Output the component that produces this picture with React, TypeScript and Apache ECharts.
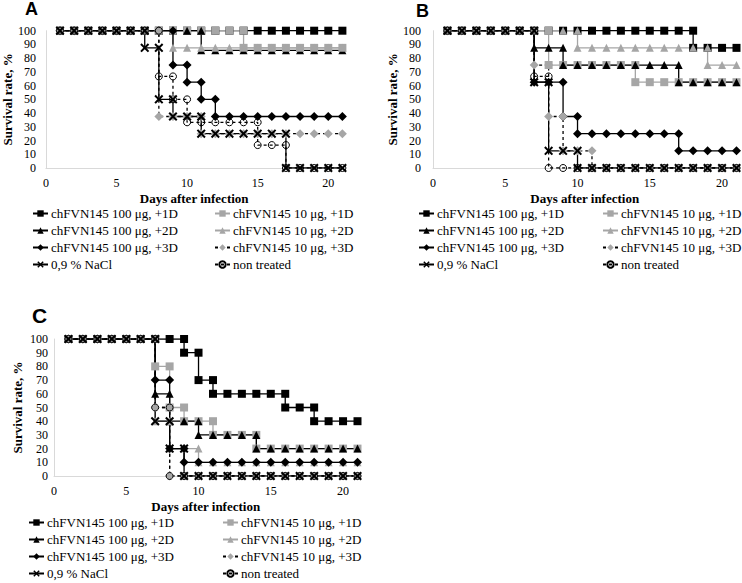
import React, { useEffect, useRef } from 'react';
import * as echarts from 'echarts';

// Series names (legend order)
const NAMES = [
  'chFVN145 100 μg, +1D',
  'chFVN145 10 μg, +1D',
  'chFVN145 100 μg, +2D',
  'chFVN145 10 μg, +2D',
  'chFVN145 100 μg, +3D',
  'chFVN145 10 μg, +3D',
  '0,9 % NaCl',
  'non treated',
];

// Survival (%) on days 1..21, panel A
const A_100_1D = [100,100,100,100,100,100,100,100,100,100,100,100,100,100,100,100,100,100,100,100,100];
const A_10_1D = [100,100,100,100,100,100,100,100,100,100,100,100,100,87.5,87.5,87.5,87.5,87.5,87.5,87.5,87.5];
const A_100_2D = [100,100,100,100,100,100,100,100,100,100,85.7,85.7,85.7,85.7,85.7,85.7,85.7,85.7,85.7,85.7,85.7];
const A_10_2D = [100,100,100,100,100,100,100,100,87.5,87.5,87.5,87.5,87.5,87.5,87.5,87.5,87.5,87.5,87.5,87.5,87.5];
const A_100_3D = [100,100,100,100,100,100,100,100,75,62.5,50,37.5,37.5,37.5,37.5,37.5,37.5,37.5,37.5,37.5,37.5];
const A_10_3D = [100,100,100,100,100,100,100,37.5,37.5,37.5,25,25,25,25,25,25,25,25,25,25,25];
const A_NACL = [100,100,100,100,100,100,87.5,50,37.5,37.5,25,25,25,25,25,25,0,0,0,0,0];
const A_NT = [100,100,100,100,100,100,100,66.7,50,33.3,33.3,33.3,33.3,33.3,16.7,16.7,0,0,0,0,0];

// Panel B
const B_100_1D = [100,100,100,100,100,100,100,100,100,100,100,100,100,100,100,100,100,87.5,87.5,87.5,87.5];
const B_10_1D = [100,100,100,100,100,100,100,75,75,75,75,75,75,62.5,62.5,62.5,62.5,62.5,62.5,62.5,62.5];
const B_100_2D = [100,100,100,100,100,100,87.5,87.5,75,75,75,75,75,75,75,75,62.5,62.5,62.5,62.5,62.5];
const B_10_2D = [100,100,100,100,100,100,100,100,100,87.5,87.5,87.5,87.5,87.5,87.5,87.5,87.5,87.5,75,75,75];
const B_100_3D = [100,100,100,100,100,100,62.5,62.5,37.5,25,25,25,25,25,25,25,12.5,12.5,12.5,12.5,12.5];
const B_10_3D = [100,100,100,100,100,100,75,37.5,12.5,12.5,0,0,0,0,0,0,0,0,0,0,0];
const B_NACL = [100,100,100,100,100,100,62.5,12.5,12.5,0,0,0,0,0,0,0,0,0,0,0,0];
const B_NT = [100,100,100,100,100,100,66.7,0,0,0,0,0,0,0,0,0,0,0,0,0,0];

// Panel C
const C_100_1D = [100,100,100,100,100,100,100,100,90,70,60,60,60,60,60,50,50,40,40,40,40];
const C_10_1D = [100,100,100,100,100,100,80,50,40,40,30,30,30,20,20,20,20,20,20,20,20];
const C_100_2D = [100,100,100,100,100,100,60,40,40,30,30,30,30,20,20,20,20,20,20,20,20];
const C_10_2D = [100,100,100,100,100,100,40,20,20,10,10,10,10,10,10,10,10,10,10,10,10];
const C_100_3D = [100,100,100,100,100,100,70,20,10,10,10,10,10,10,10,10,10,10,10,10,10];
const C_10_3D = [100,100,100,100,100,100,50,0,0,0,0,0,0,0,0,0,0,0,0,0,0];
const C_NACL = [100,100,100,100,100,100,40,20,0,0,0,0,0,0,0,0,0,0,0,0,0];
const C_NT = [100,100,100,100,100,100,50,0,0,0,0,0,0,0,0,0,0,0,0,0,0];

const PANEL_A = [A_100_1D, A_10_1D, A_100_2D, A_10_2D, A_100_3D, A_10_3D, A_NACL, A_NT];
const PANEL_B = [B_100_1D, B_10_1D, B_100_2D, B_10_2D, B_100_3D, B_10_3D, B_NACL, B_NT];
const PANEL_C = [C_100_1D, C_10_1D, C_100_2D, C_10_2D, C_100_3D, C_10_3D, C_NACL, C_NT];

const X_TITLE = 'Days after infection';
const Y_TITLE = 'Survival rate, %';

const BLACK = '#000000';
const GREY = '#a6a6a6';
const SERIF = '"Liberation Serif", "Times New Roman", serif';
const SANS = '"Liberation Sans", Arial, sans-serif';
const CROSS = 'path://M0,1.6L1.6,0L5,3.4L8.4,0L10,1.6L6.6,5L10,8.4L8.4,10L5,6.6L1.6,10L0,8.4L3.4,5Z';

const STYLES: any[] = [
  { symbol: 'rect', size: 8, color: BLACK, line: BLACK, dash: 'solid' },
  { symbol: 'rect', size: 8, color: GREY, line: GREY, dash: 'solid' },
  { symbol: 'triangle', size: 8, color: BLACK, line: BLACK, dash: 'solid' },
  { symbol: 'triangle', size: 8, color: GREY, line: GREY, dash: 'solid' },
  { symbol: 'diamond', size: 9, color: BLACK, line: BLACK, dash: 'solid' },
  { symbol: 'diamond', size: 9, color: GREY, line: BLACK, dash: [3, 3] },
  { symbol: CROSS, size: 9, color: BLACK, line: BLACK, dash: 'solid' },
  { symbol: 'circle', size: 7, color: '#ffffff00', border: BLACK, line: BLACK, dash: [3, 3] },
];

function steps(v: number[]) {
  const out: [number, number][] = [];
  v.forEach((val, i) => {
    const day = i + 1;
    if (i > 0 && val !== v[i - 1]) out.push([day, v[i - 1]]);
    out.push([day, val]);
  });
  return out;
}

function makeSeries(panel: number[][], idx: number) {
  return panel.map((vals, k) => {
    const st = STYLES[k];
    return {
      type: 'line',
      name: NAMES[k],
      xAxisIndex: idx,
      yAxisIndex: idx,
      data: steps(vals),
      symbol: st.symbol,
      symbolSize: st.size,
      showAllSymbol: true,
      silent: true,
      lineStyle: { color: st.line, width: 1.3, type: st.dash },
      itemStyle: {
        color: st.color,
        borderColor: st.border || st.color,
        borderWidth: st.border ? 1 : 0,
      },
      emphasis: { disabled: true },
    };
  });
}

function xAxis(idx: number) {
  return {
    type: 'value', gridIndex: idx, min: 0, max: 21, interval: 5,
    axisLine: { show: true, lineStyle: { color: '#d9d9d9', width: 1 } },
    axisTick: { show: false }, splitLine: { show: false },
    axisLabel: { showMaxLabel: false, fontFamily: SERIF, fontSize: 12, color: '#000', margin: 9 },
    name: X_TITLE, nameLocation: 'middle', nameGap: 24,
    nameTextStyle: { fontFamily: SERIF, fontWeight: 'bold', fontSize: 13, color: '#000' },
  };
}

function yAxis(idx: number, gap: number, labMargin: number) {
  return {
    type: 'value', gridIndex: idx, min: 0, max: 100, interval: 10,
    axisLine: { show: true, lineStyle: { color: '#d9d9d9', width: 1 } },
    axisTick: { show: false }, splitLine: { show: false },
    axisLabel: { fontFamily: SERIF, fontSize: 12, color: '#000', margin: labMargin },
    name: Y_TITLE, nameLocation: 'middle', nameGap: gap, nameRotate: 90,
    nameTextStyle: { fontFamily: SERIF, fontWeight: 'bold', fontSize: 13, color: '#000' },
  };
}

function legend(items: string[], left: number, top: number) {
  return {
    data: items, left, top, orient: 'vertical', padding: 0,
    itemWidth: 15, itemHeight: 8, itemGap: 0, selectedMode: false,
    textStyle: { fontFamily: SERIF, fontSize: 13, color: '#000', lineHeight: 17, padding: [0, 0, 0, -2] },
  };
}

const COL1 = [NAMES[0], NAMES[2], NAMES[4], NAMES[6]];
const COL2 = [NAMES[1], NAMES[3], NAMES[5], NAMES[7]];

export default function App() {
  const ref = useRef<HTMLDivElement>(null);
  useEffect(() => {
    if (!ref.current) return;
    const chart = echarts.init(ref.current, undefined, { renderer: 'svg' });
    chart.setOption({
      animation: false,
      backgroundColor: '#ffffff',
      grid: [
        { left: 42.7, top: 30.7, width: 299.7, height: 137.3 },
        { left: 433, top: 30.7, width: 303.5, height: 137.3 },
        { left: 54, top: 339, width: 303.5, height: 137 },
      ],
      xAxis: [xAxis(0), xAxis(1), xAxis(2)],
      yAxis: [yAxis(0, 28, 10), yAxis(1, 30, 12), yAxis(2, 30, 6)],
      legend: [
        legend(COL1, 32, 205), legend(COL2, 214, 205),
        legend(COL1, 418, 205), legend(COL2, 602, 205),
        legend(COL1, 28, 514), legend(COL2, 222, 514),
      ],
      graphic: [
        { type: 'text', left: 25, top: 0, style: { text: 'A', font: `bold 18px ${SANS}`, fill: '#000' } },
        { type: 'text', left: 416, top: 2, style: { text: 'B', font: `bold 18px ${SANS}`, fill: '#000' } },
        { type: 'text', left: 32, top: 305, style: { text: 'C', font: `bold 21px ${SANS}`, fill: '#000' } },
      ],
      series: [
        ...makeSeries(PANEL_A, 0),
        ...makeSeries(PANEL_B, 1),
        ...makeSeries(PANEL_C, 2),
      ],
    });
    return () => chart.dispose();
  }, []);
  return (
    <div
      ref={ref}
      style={{ position: 'absolute', left: 0, top: 0, width: 742, height: 583, background: '#fff' }}
    />
  );
}
